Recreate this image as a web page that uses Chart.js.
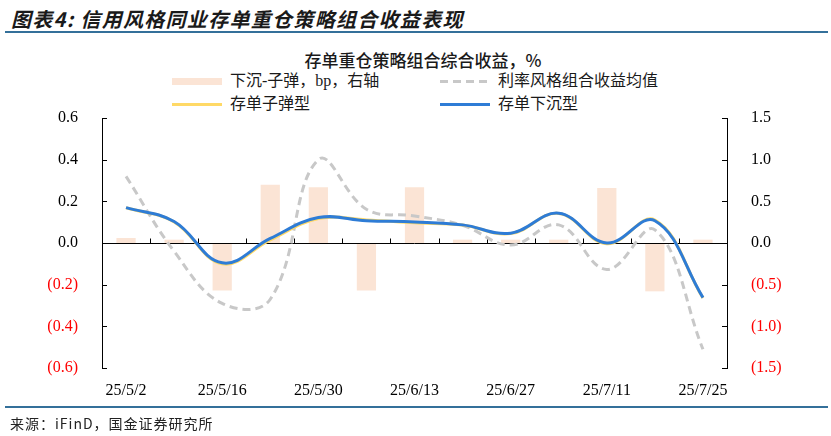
<!DOCTYPE html>
<html>
  <head>
    <meta charset="utf-8">
    <title>信用风格同业存单重仓策略组合收益表现</title>
    <script src="https://cdn.jsdelivr.net/npm/chart.js@4.4.1/dist/chart.umd.min.js"></script>
    <style>
      html,body{
        width: 831px;
        height: 436px;
        margin: 0;
        padding: 0;
        background: #fff;
        overflow: hidden;
      }
      #wrap{
        position: relative;
        width: 831px;
        height: 436px;
      }
      #myChart{
        position: absolute;
        left: 0;
        top: 0;
      }
      .titulo{
        position: absolute;
        left: 11px;
        top: 4px;
        font-family: "Noto Sans CJK SC", sans-serif;
        font-size: 20px;
        font-weight: 700;
        font-style: italic;
        letter-spacing: 1.3px;
        color: #1a1a1a;
        white-space: nowrap;
      }
      .regua{
        position: absolute;
        left: 5px;
        width: 823px;
        height: 2px;
        background: #34709a;
      }
      .subtitulo{
        position: absolute;
        left: 0;
        width: 846px;
        top: 47px;
        text-align: center;
        font-family: "Noto Sans CJK SC", sans-serif;
        font-size: 17px;
        font-weight: 500;
        color: #1a1a1a;
      }
      .leg{
        position: absolute;
        font-family: "Liberation Serif", "Noto Sans CJK SC", serif;
        font-size: 16px;
        color: #1a1a1a;
        white-space: nowrap;
        line-height: 20px;
      }
      .sw{
        position: absolute;
        width: 50px;
      }
      .fonte{
        position: absolute;
        left: 10px;
        top: 413px;
        font-family: "Noto Sans CJK SC", sans-serif;
        font-size: 14px;
        letter-spacing: 1px;
        color: #222;
        white-space: nowrap;
      }
    </style>
  </head>
  <body>
    <div id="wrap">
      <div class="titulo">图表4: 信用风格同业存单重仓策略组合收益表现</div>
      <div class="regua" style="top:31px"></div>
      <div class="subtitulo">存单重仓策略组合综合收益，%</div>

      <div class="sw" style="left:172px; top:78px; height:7px; background:#fbe4d5"></div>
      <div class="leg" style="left:230px; top:71px">下沉-子弹，bp，右轴</div>
      <div class="sw" style="left:440px; top:80px; height:3px; background:repeating-linear-gradient(90deg,#c8c8c8 0 8px,transparent 8px 13px)"></div>
      <div class="leg" style="left:498px; top:71px">利率风格组合收益均值</div>
      <div class="sw" style="left:172px; top:103px; height:3px; background:#ffd966"></div>
      <div class="leg" style="left:230px; top:94px">存单子弹型</div>
      <div class="sw" style="left:440px; top:103px; height:3px; background:#2e7cd6"></div>
      <div class="leg" style="left:498px; top:94px">存单下沉型</div>

      <canvas id="myChart" width="831" height="436"></canvas>

      <div class="regua" style="top:406px"></div>
      <div class="fonte">来源：iFinD，国金证券研究所</div>
    </div>

    <script>
      // datas semanais
      const datas = ['25/5/2','25/5/9','25/5/16','25/5/23','25/5/30','25/6/6','25/6/13','25/6/20','25/6/27','25/7/4','25/7/11','25/7/18','25/7/25']

      // 下沉-子弹，bp (eixo direito)
      const spreadBp = [0.06, 0.04, -0.57, 0.70, 0.67, -0.57, 0.67, 0.04, 0.04, 0.04, 0.66, -0.58, 0.04]
      // 存单子弹型, %
      const bullet = [0.169, 0.101, -0.100, 0.015, 0.117, 0.111, 0.097, 0.086, 0.045, 0.142, -0.004, 0.110, -0.264]
      // 存单下沉型, %
      const sink = [0.170, 0.103, -0.095, 0.022, 0.122, 0.107, 0.101, 0.087, 0.047, 0.143, 0.000, 0.107, -0.262]
      // 利率风格组合收益均值, %
      const rateAvg = [0.32, -0.04, -0.29, -0.27, 0.40, 0.162, 0.13, 0.085, -0.01, 0.087, -0.127, 0.063, -0.51]

      const fonteEixo = {family: '"Liberation Serif", serif', size: 16}

      function fmt(v, casas){
        const s = Math.abs(v).toFixed(casas)
        return v < -1e-9 ? '(' + s + ')' : s
      }
      function corTick(ctx){
        return ctx.tick && ctx.tick.value < -1e-9 ? '#ff0000' : '#000000'
      }

      // marcas curtas para dentro + linha do zero
      const marcas = {
        id: 'marcas',
        afterDatasetDraw(chart, args){
          if(args.index !== 0){ return }
          const c = chart.ctx
          const xs = chart.scales.x, yl = chart.scales.y
          const y0 = Math.round(yl.getPixelForValue(0)) + 0.5
          c.save()
          c.strokeStyle = '#000'
          c.lineWidth = 1
          c.beginPath()
          c.moveTo(chart.chartArea.left, y0)
          c.lineTo(chart.chartArea.right, y0)
          for(let i = 1; i < datas.length; i++){
            const xb = Math.round((xs.getPixelForValue(i-1) + xs.getPixelForValue(i)) / 2) + 0.5
            c.moveTo(xb, y0)
            c.lineTo(xb, y0 - 5)
          }
          c.stroke()
          c.restore()
        },
        afterDraw(chart){
          const c = chart.ctx
          const yl = chart.scales.y, yr = chart.scales.y1
          c.save()
          c.strokeStyle = '#000'
          c.lineWidth = 1
          c.beginPath()
          yl.ticks.forEach(t => {
            const y = Math.round(yl.getPixelForValue(t.value)) + 0.5
            c.moveTo(yl.right, y); c.lineTo(yl.right + 5, y)
          })
          yr.ticks.forEach(t => {
            const y = Math.round(yr.getPixelForValue(t.value)) + 0.5
            c.moveTo(yr.left, y); c.lineTo(yr.left - 5, y)
          })
          c.stroke()
          c.restore()
        }
      }

      const ctx = document.getElementById('myChart').getContext('2d')
      const myChart = new Chart(ctx, {
        data: {
          labels: datas,
          datasets: [
            {
              type: 'bar',
              label: '下沉-子弹，bp，右轴',
              data: spreadBp,
              yAxisID: 'y1',
              backgroundColor: '#fbe4d5',
              borderWidth: 0,
              barPercentage: 0.4,
              categoryPercentage: 1,
              order: 4
            },
            {
              type: 'line',
              label: '利率风格组合收益均值',
              data: rateAvg,
              yAxisID: 'y',
              borderColor: '#c8c8c8',
              borderWidth: 3,
              borderDash: [8, 5],
              pointRadius: 0,
              tension: 0.4,
              fill: false,
              order: 3
            },
            {
              type: 'line',
              label: '存单子弹型',
              data: bullet,
              yAxisID: 'y',
              borderColor: '#ffd966',
              borderWidth: 3,
              pointRadius: 0,
              tension: 0.4,
              fill: false,
              order: 2
            },
            {
              type: 'line',
              label: '存单下沉型',
              data: sink,
              yAxisID: 'y',
              borderColor: '#2e7cd6',
              borderWidth: 3,
              pointRadius: 0,
              tension: 0.4,
              fill: false,
              order: 1
            }
          ]
        },
        options: {
          responsive: false,
          animation: false,
          layout: {padding: {left: 0, right: 0, top: 118, bottom: 38}},
          plugins: {
            legend: {display: false},
            tooltip: {enabled: false}
          },
          scales: {
            x: {
              type: 'category',
              offset: true,
              grid: {display: false},
              border: {display: false},
              afterFit(s){ s.height = 30 },
              ticks: {
                autoSkip: false,
                maxRotation: 0,
                padding: 5,
                color: '#000',
                font: fonteEixo,
                callback: (v, i) => i % 2 === 0 ? datas[i] : ''
              }
            },
            y: {
              position: 'left',
              min: -0.6,
              max: 0.6,
              afterFit(s){ s.width = 102 },
              grid: {display: false},
              border: {display: true, color: '#000', width: 1},
              ticks: {
                stepSize: 0.2,
                padding: 16,
                font: fonteEixo,
                color: corTick,
                callback: v => fmt(v, 1)
              }
            },
            y1: {
              position: 'right',
              min: -1.5,
              max: 1.5,
              afterFit(s){ s.width = 104 },
              grid: {display: false},
              border: {display: true, color: '#000', width: 1},
              ticks: {
                stepSize: 0.5,
                padding: 16,
                font: fonteEixo,
                color: corTick,
                callback: v => fmt(v, 1)
              }
            }
          }
        },
        plugins: [marcas]
      })
    </script>
  </body>
</html>
